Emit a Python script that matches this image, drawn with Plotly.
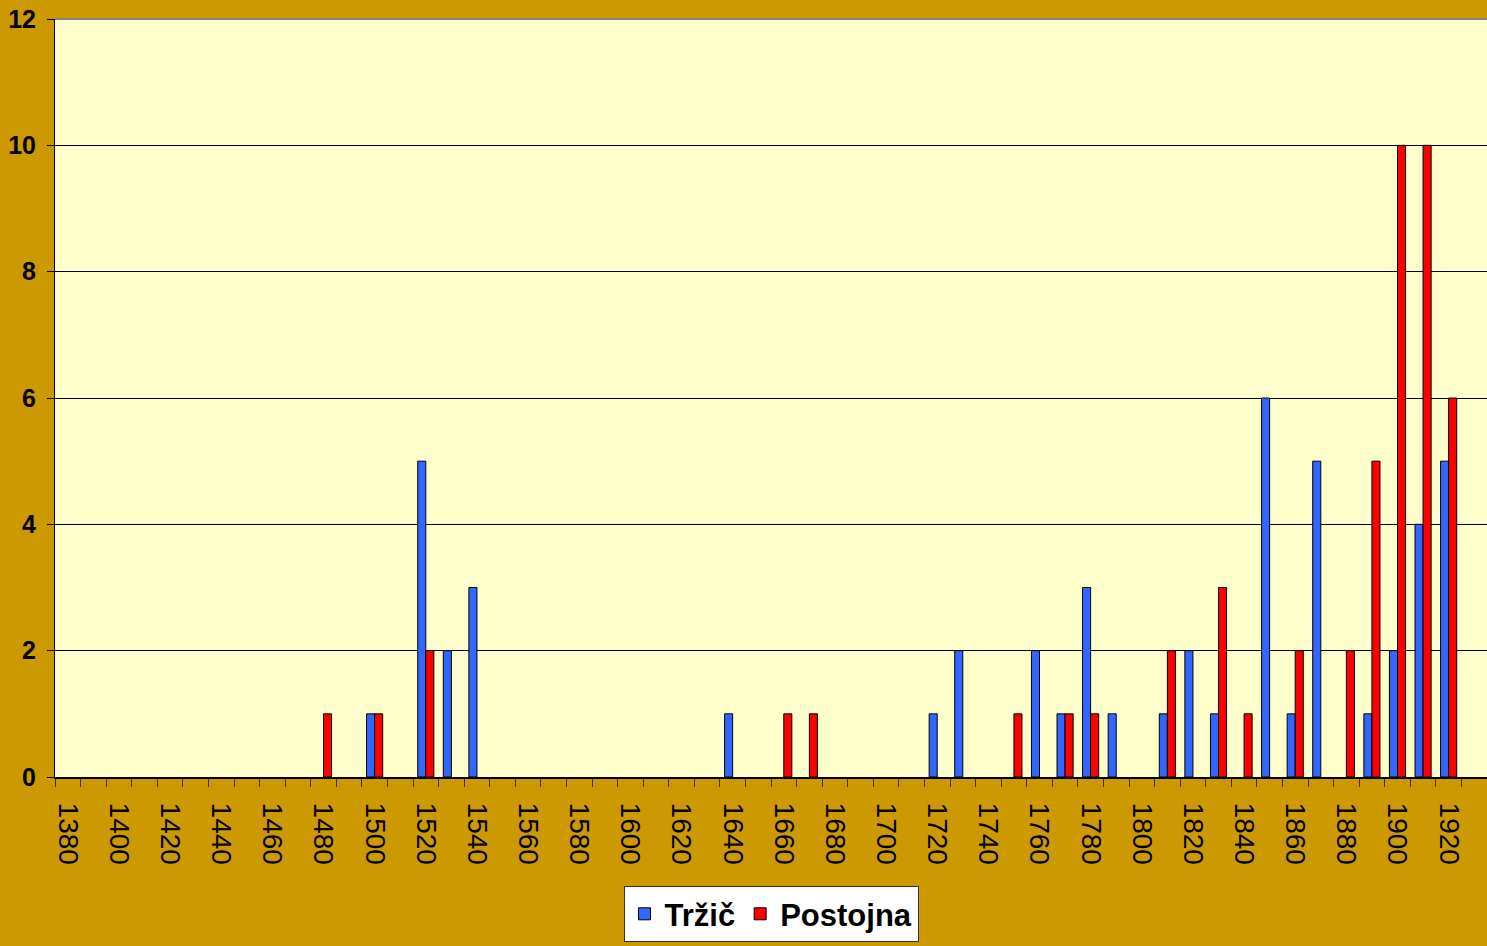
import plotly.graph_objects as go

# Anos (categorias de 10 em 10) e contagens por cidade
anos = [1380, 1390, 1400, 1410, 1420, 1430, 1440, 1450, 1460, 1470,
        1480, 1490, 1500, 1510, 1520, 1530, 1540, 1550, 1560, 1570,
        1580, 1590, 1600, 1610, 1620, 1630, 1640, 1650, 1660, 1670,
        1680, 1690, 1700, 1710, 1720, 1730, 1740, 1750, 1760, 1770,
        1780, 1790, 1800, 1810, 1820, 1830, 1840, 1850, 1860, 1870,
        1880, 1890, 1900, 1910, 1920]
trzic = [0, 0, 0, 0, 0, 0, 0, 0, 0, 0,
         0, 0, 1, 0, 5, 2, 3, 0, 0, 0,
         0, 0, 0, 0, 0, 0, 1, 0, 0, 0,
         0, 0, 0, 0, 1, 2, 0, 0, 2, 1,
         3, 1, 0, 1, 2, 1, 0, 6, 1, 5,
         0, 1, 2, 4, 5]
postojna = [0, 0, 0, 0, 0, 0, 0, 0, 0, 0,
            1, 0, 1, 0, 2, 0, 0, 0, 0, 0,
            0, 0, 0, 0, 0, 0, 0, 0, 1, 1,
            0, 0, 0, 0, 0, 0, 0, 1, 0, 1,
            1, 0, 0, 2, 0, 3, 1, 0, 2, 0,
            2, 5, 10, 10, 6]
rotulos_x = [1380, 1400, 1420, 1440, 1460, 1480, 1500, 1520, 1540, 1560,
             1580, 1600, 1620, 1640, 1660, 1680, 1700, 1720, 1740, 1760,
             1780, 1800, 1820, 1840, 1860, 1880, 1900, 1920]
valores_y = [0, 2, 4, 6, 8, 10, 12]

fonte = "Liberation Sans, Arial, sans-serif"

# zeros nao desenham barra (como no Excel)
y_trzic = [v if v else None for v in trzic]
y_postojna = [v if v else None for v in postojna]

fig = go.Figure()
fig.add_trace(go.Bar(x=anos, y=y_trzic, name="Tržič",
                     marker=dict(color="#3366FF", line=dict(color="black", width=1))))
fig.add_trace(go.Bar(x=anos, y=y_postojna, name="Postojna",
                     marker=dict(color="#FF0000", line=dict(color="black", width=1))))

fig.update_layout(
    width=1487, height=946,
    margin=dict(l=55, r=0, t=19, b=169),
    paper_bgcolor="#CC9900",
    plot_bgcolor="#FFFFCC",
    barmode="group",
    bargap=0.37,
    bargroupgap=0,
    showlegend=True,
    legend=dict(orientation="h", x=0.5, xanchor="center", y=-0.144, yanchor="top",
                bgcolor="white", bordercolor="#333333", borderwidth=1,
                font=dict(family=fonte, size=31, color="black", weight="bold"),
                itemclick=False),
)

fig.update_xaxes(
    range=[1375, 1935],
    tickmode="array", tickvals=rotulos_x, ticktext=[str(a) for a in rotulos_x],
    tickangle=90, ticks="outside", ticklen=0,
    ticklabelstandoff=18,
    tickfont=dict(family=fonte, size=28, color="black"),
    showgrid=False, zeroline=False,
    showline=True, linecolor="black", linewidth=2,
    minor=dict(tick0=1375, dtick=10, ticks="outside", ticklen=8, tickcolor="#333333", showgrid=False),
)
fig.update_yaxes(
    range=[0, 12],
    tickmode="array", tickvals=valores_y,
    ticks="outside", ticklen=7, tickcolor="black",
    ticklabelstandoff=6,
    tickfont=dict(family=fonte, size=25, color="black", weight="bold"),
    showgrid=True, gridcolor="black", gridwidth=1,
    zeroline=False,
    showline=True, linecolor="black", linewidth=1,
)

# borda superior cinza da área do gráfico
fig.add_shape(type="line", xref="paper", yref="paper", x0=0, x1=1, y0=1, y1=1,
              line=dict(color="#808080", width=2))

fig.write_html("out.html", config={"displayModeBar": False},
               post_script="document.body.style.margin='0';document.body.style.background='#CC9900';")
